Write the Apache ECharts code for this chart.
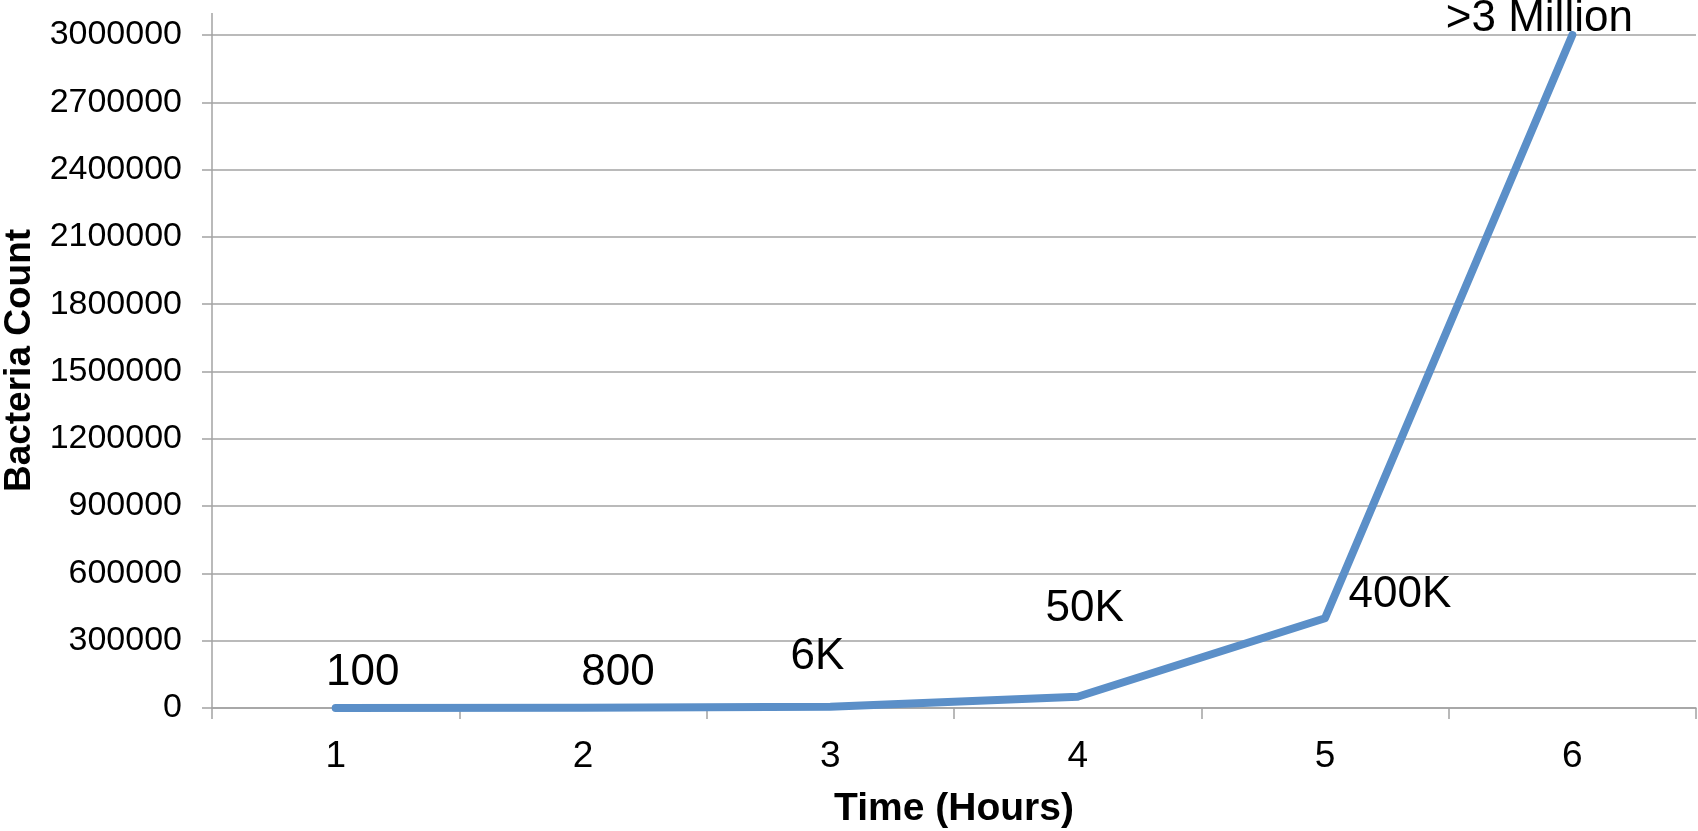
<!DOCTYPE html>
<html>
<head>
<meta charset="utf-8">
<title>Bacteria Count</title>
<script src="https://cdn.jsdelivr.net/npm/echarts@6/dist/echarts.min.js"></script>
<style>
  html, body { margin: 0; padding: 0; background: #fff; }
  #chart { width: 1698px; height: 831px; }
</style>
</head>
<body>
<div id="chart"></div>
<script>
// Hours since start
const hours = ['1', '2', '3', '4', '5', '6'];
// Bacteria counted at each hour
const counts = [100, 800, 6000, 50000, 400000, 3000000];
// Text written beside each point
const pointLabels = ['100', '800', '6K', '50K', '400K', '>3 Million'];
// Where each point's text sits relative to the point (px)
const labelOffsets = [[27, -35], [35, -35], [-13, -50], [7, -88], [75, -23], [-33, -16]];

const yMax = 3000000;
const yStep = 300000;

const FONT = '"Liberation Sans", Arial, sans-serif';
const AXIS_GREY = '#a3a3a3';
const LINE_BLUE = '#5b8fc8';

const chart = echarts.init(document.getElementById('chart'), null, { renderer: 'canvas' });

const seriesData = counts.map((v, i) => ({
  value: v,
  label: {
    show: true,
    position: 'inside',
    offset: labelOffsets[i],
    formatter: pointLabels[i],
    fontFamily: FONT,
    fontSize: 44,
    color: '#000'
  }
}));

chart.setOption({
  animation: false,
  backgroundColor: '#fff',
  grid: {
    left: 212, right: 2, top: 35, bottom: 123,
    containLabel: false,
    outerBoundsMode: 'none'
  },
  xAxis: {
    type: 'category',
    data: hours,
    boundaryGap: true,
    name: 'Time (Hours)',
    nameLocation: 'middle',
    nameGap: 82,
    nameTextStyle: { fontFamily: FONT, fontSize: 39, fontWeight: 'bold', color: '#000' },
    axisLine: { lineStyle: { color: AXIS_GREY, width: 1.5 } },
    axisTick: { show: true, length: 11, inside: false, lineStyle: { color: AXIS_GREY, width: 1.5 } },
    axisLabel: { fontFamily: FONT, fontSize: 37, color: '#000', margin: 30 },
    splitLine: { show: false }
  },
  yAxis: {
    type: 'value',
    min: 0,
    max: yMax,
    interval: yStep,
    name: 'Bacteria Count',
    nameLocation: 'middle',
    nameGap: 172,
    nameRotate: 90,
    nameTextStyle: {
      fontFamily: FONT, fontSize: 37, fontWeight: 'bold', color: '#000',
      padding: [0, 0, 0, 22]
    },
    axisLine: { show: true, lineStyle: { color: AXIS_GREY, width: 1.5 } },
    axisTick: { show: true, length: 10, inside: false, lineStyle: { color: AXIS_GREY, width: 1.5 } },
    axisLabel: {
      fontFamily: FONT, fontSize: 34, color: '#000', margin: 30,
      formatter: (v) => String(v)
    },
    splitLine: { show: true, lineStyle: { color: AXIS_GREY, width: 1.5 } }
  },
  series: [{
    type: 'line',
    data: seriesData,
    showSymbol: true,
    symbol: 'circle',
    symbolSize: 1,
    itemStyle: { color: 'rgba(0,0,0,0)' },
    lineStyle: { color: LINE_BLUE, width: 8, cap: 'round', join: 'round' },
    z: 3
  }]
});

// Extend the vertical axis line a little above the top gridline
const topLeft = chart.convertToPixel({ gridIndex: 0 }, [0, yMax]);
const step = chart.convertToPixel({ xAxisIndex: 0 }, 1) - chart.convertToPixel({ xAxisIndex: 0 }, 0);
const axisX = chart.convertToPixel({ xAxisIndex: 0 }, 0) - step / 2;
chart.setOption({
  graphic: [{
    type: 'line',
    shape: { x1: axisX, y1: topLeft[1], x2: axisX, y2: topLeft[1] - 22 },
    style: { stroke: AXIS_GREY, lineWidth: 1.5 },
    z: 10
  }]
});
</script>
</body>
</html>
